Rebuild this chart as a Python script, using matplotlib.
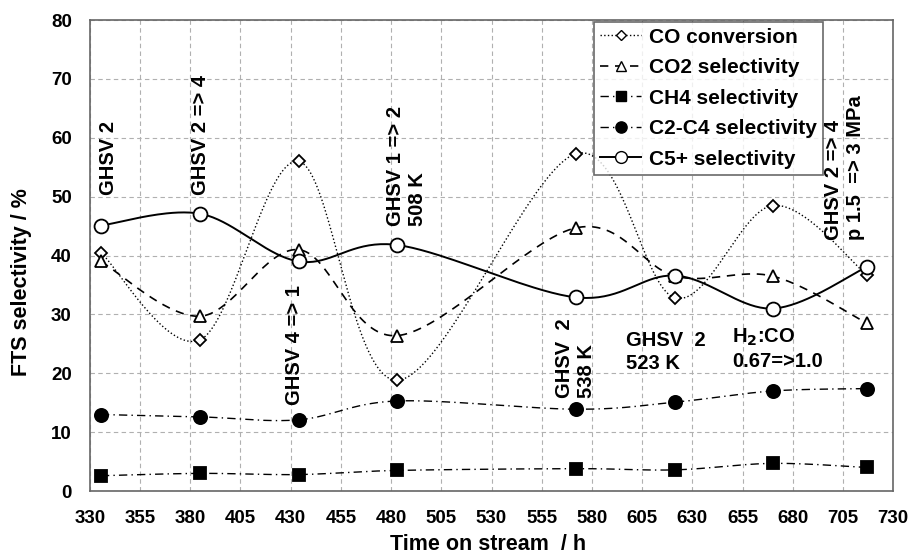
import numpy as np
import matplotlib
matplotlib.use("Agg")
import matplotlib.pyplot as plt
from matplotlib.lines import Line2D

plt.rcParams['font.family'] = ['Liberation Sans', 'DejaVu Sans']
plt.rcParams['font.weight'] = 'bold'

# time on stream (h)
tos = [335.5, 385, 434, 483, 572, 621.5, 670, 717]
co_conv = [40.5, 25.7, 56.0, 18.8, 57.3, 32.8, 48.5, 36.7]
co2_sel = [39.0, 29.7, 41.0, 26.4, 44.7, 36.5, 36.5, 28.5]
ch4_sel = [2.6, 3.0, 2.8, 3.5, 3.8, 3.6, 4.7, 4.0]
c2c4_sel = [13.0, 12.6, 12.1, 15.3, 13.9, 15.1, 17.0, 17.4]
c5_sel = [45.1, 47.1, 39.0, 41.8, 32.9, 36.6, 31.0, 38.1]


def smooth(x, y, n=40):
    # Excel-like smoothed line: cubic bezier through points
    x = np.asarray(x, float)
    y = np.asarray(y, float)
    px, py = [], []
    for i in range(len(x) - 1):
        x0, y0 = (x[i - 1], y[i - 1]) if i > 0 else (x[i], y[i])
        x3, y3 = (x[i + 2], y[i + 2]) if i + 2 < len(x) else (x[i + 1], y[i + 1])
        c1x = x[i] + (x[i + 1] - x0) / 6
        c1y = y[i] + (y[i + 1] - y0) / 6
        c2x = x[i + 1] - (x3 - x[i]) / 6
        c2y = y[i + 1] - (y3 - y[i]) / 6
        t = np.linspace(0, 1, n)
        bx = (1 - t) ** 3 * x[i] + 3 * (1 - t) ** 2 * t * c1x + 3 * (1 - t) * t ** 2 * c2x + t ** 3 * x[i + 1]
        by = (1 - t) ** 3 * y[i] + 3 * (1 - t) ** 2 * t * c1y + 3 * (1 - t) * t ** 2 * c2y + t ** 3 * y[i + 1]
        px.extend(bx)
        py.extend(by)
    return px, py


fig = plt.figure(figsize=(9.17, 5.58), dpi=100)
ax = fig.add_axes([0.098, 0.12, 0.876, 0.844])

series = [
    (co_conv, 'CO conversion', ':', 'D', 'white', 6, 1.0),
    (co2_sel, 'CO2 selectivity', (0, (5, 4)), '^', 'white', 8, 1.2),
    (ch4_sel, 'CH4 selectivity', (0, (6, 3, 1, 3)), 's', 'black', 8.5, 1.0),
    (c2c4_sel, 'C2-C4 selectivity', (0, (6, 3, 1, 3)), 'o', 'black', 9.5, 1.0),
    (c5_sel, 'C5+ selectivity', '-', 'o', 'white', 10, 1.4),
]

handles = []
for vals, label, ls, mk, mfc, ms, lw in series:
    sx, sy = smooth(tos, vals)
    ax.plot(sx, sy, color='black', linestyle=ls, linewidth=lw, zorder=3)
    ax.plot(tos, vals, linestyle='none', marker=mk, markersize=ms,
            markerfacecolor=mfc, markeredgecolor='black', markeredgewidth=1.3, zorder=4)
    handles.append(Line2D([], [], color='black', linestyle=ls, linewidth=lw, marker=mk,
                          markersize=ms * 0.85, markerfacecolor=mfc, markeredgecolor='black'))

ax.set_xlim(330, 730)
ax.set_ylim(0, 80)
ax.set_xticks(np.arange(330, 731, 25))
ax.set_yticks(np.arange(0, 81, 10))
ax.tick_params(axis='x', labelsize=13.5, length=0, pad=14)
ax.tick_params(axis='y', labelsize=13.5, length=0, pad=13)
for lab in ax.get_xticklabels() + ax.get_yticklabels():
    lab.set_fontweight('bold')
ax.grid(True, color='#b0b0b0', linestyle=(0, (4, 3)), linewidth=0.8)
for sp in ax.spines.values():
    sp.set_color('#666666')
    sp.set_linewidth(1.2)

ax.set_xlabel('Time on stream  / h', fontsize=15.5, fontweight='bold')
ax.set_ylabel('FTS selectivity / %', fontsize=15.5, fontweight='bold')
ax.xaxis.set_label_coords(0.496, -0.092)
ax.yaxis.set_label_coords(-0.072, 0.444)

leg = ax.legend(handles=handles, labels=[s[1] for s in series], loc='upper left',
                bbox_to_anchor=(0.627, 0.997), fontsize=15, frameon=True,
                fancybox=False, edgecolor='#444444', handlelength=2.0,
                handletextpad=0.35, borderpad=0.3, labelspacing=0.55,
                borderaxespad=0)
leg.get_frame().set_linewidth(1.2)
leg.set_zorder(5)

tkw = dict(fontsize=14.5, fontweight='bold', color='black', zorder=6)
ax.text(339.5, 50.3, 'GHSV 2', rotation=90, ha='center', va='bottom', **tkw)
ax.text(385, 50.3, 'GHSV 2 => 4', rotation=90, ha='center', va='bottom', **tkw)
ax.text(432, 14.6, 'GHSV 4 => 1', rotation=90, ha='center', va='bottom', **tkw)
ax.text(487.5, 45, 'GHSV 1 => 2\n508 K', rotation=90, ha='center', va='bottom',
        multialignment='left', **tkw)
ax.text(572, 15.8, 'GHSV  2\n538 K', rotation=90, ha='center', va='bottom',
        multialignment='left', **tkw)
ax.text(597, 27.2, 'GHSV  2\n523 K', ha='left', va='top', linespacing=1.3, **tkw)
ax.text(650, 28.0, 'H$_2$:CO\n0.67=>1.0', ha='left', va='top', linespacing=1.3, **tkw)
ax.text(706, 42.6, 'GHSV 2 => 4\np 1.5  => 3 MPa', rotation=90, ha='center', va='bottom',
        multialignment='left', **tkw)

fig.savefig('out.png', dpi=100)
